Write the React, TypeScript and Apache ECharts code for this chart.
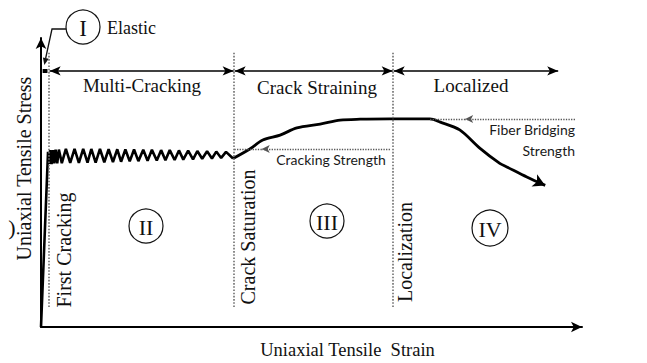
import React, { useEffect, useRef } from "react";
import * as echarts from "echarts";

// Elastic branch + multiple cracking (saw-tooth) branch
const crackingStrain = [
  0, 1.3, 1.5, 1.7, 1.95, 2.2, 2.45, 2.7, 3.0, 3.3, 3.85,
  4.6, 5.4, 6.2, 7.0, 7.8, 8.6, 9.3, 10.1, 10.9, 11.7, 12.5, 13.3,
  14.1, 14.8, 15.6, 16.4, 17.2, 18.0, 18.9, 19.7, 20.5, 21.4, 22.2,
  23.0, 23.8, 24.7, 25.5, 26.3, 27.2, 28.1, 28.9, 29.8, 30.7, 31.6,
  32.4, 33.3, 34.2, 35.5,
];
const crackingStress = [
  0, 60.6, 56.4, 61.2, 56.4, 61.2, 56.6, 61.4, 56.6, 61.4, 56.7,
  61.6, 56.8, 61.6, 56.8, 61.6, 56.9, 61.6, 56.9, 61.6, 57.0, 61.5, 57.1,
  61.5, 57.2, 61.4, 57.3, 61.4, 57.4, 61.3, 57.5, 61.3, 57.6, 61.2,
  57.7, 61.2, 57.8, 61.1, 57.9, 61.0, 58.0, 60.9, 58.2, 60.8, 58.3,
  60.7, 58.5, 60.6, 58.3,
];
// Strain-hardening and softening branch
const hardeningStrain = [35.5, 38.6, 41.0, 44.2, 47.3, 51.6, 55.3, 59.0, 64.5, 71.9, 73.8, 77.4, 81.1, 84.8, 86.1, 89.8, 93.2];
const hardeningStress = [58.3, 61.6, 64.7, 66.4, 68.9, 70.2, 71.6, 71.9, 72.0, 72.0, 70.9, 68.2, 61.9, 56.6, 55.4, 51.9, 49.0];

const boundaryStrain = [1.5, 35.7, 65.1];
const boundaryNames = ["First Cracking", "Crack Saturation", "Localization"];
const boundaryLow = 6.9;
const boundaryHigh = 95.2;

const phaseNames = ["Multi-Cracking", "Crack Straining", "Localized"];
const phaseStart = [1.6, 35.8, 65.2];
const phaseEnd = [35.6, 65.0, 95.6];
const phaseLevel = 88.6;

const crackingStrength = 61.6;
const crackingStrengthSpan = [35.7, 40.8, 64.5];
const fiberBridgingStrength = 72.0;
const fiberBridgingSpan = [71.9, 78.4, 98.7];

const stageNumerals = ["I", "II", "III", "IV"];
const xAxisTitle = "Uniaxial Tensile  Strain";
const yAxisTitle = "Uniaxial Tensile Stress";

const SERIF = '"Liberation Serif", "Times New Roman", serif';
const SANS = 'Lato, "Open Sans", sans-serif';

export default function App() {
  const ref = useRef<HTMLDivElement>(null);

  useEffect(() => {
    if (!ref.current) return;
    const chart = echarts.init(ref.current, null, { renderer: "svg" });

    const dotted = { type: "dotted", color: "#6e6e6e", width: 1.6 };
    const markData: any[] = [];
    boundaryStrain.forEach((x) => {
      markData.push([
        { coord: [x, boundaryLow], symbol: "none", lineStyle: dotted },
        { coord: [x, boundaryHigh], symbol: "none" },
      ]);
    });
    phaseStart.forEach((s, i) => {
      markData.push([
        { coord: [s, phaseLevel], symbol: "arrow", symbolSize: [7, 11], lineStyle: { type: "solid", color: "#000", width: 1.5 } },
        { coord: [phaseEnd[i], phaseLevel], symbol: "arrow", symbolSize: [7, 11] },
      ]);
    });
    // tiny elastic range marker
    markData.push([
      { coord: [0.3, phaseLevel], symbol: "none", lineStyle: { type: "solid", color: "#000", width: 4 } },
      { coord: [1.2, phaseLevel], symbol: "none" },
    ]);
    const thinArrow = { type: "dotted", color: "#555", width: 1.3 };
    markData.push([
      { coord: [crackingStrengthSpan[2], crackingStrength], symbol: "none", lineStyle: thinArrow },
      { coord: [crackingStrengthSpan[1], crackingStrength], symbol: "arrow", symbolSize: [6, 8] },
    ]);
    markData.push([
      { coord: [crackingStrengthSpan[1], crackingStrength], symbol: "none", lineStyle: thinArrow },
      { coord: [crackingStrengthSpan[0], crackingStrength], symbol: "none" },
    ]);
    markData.push([
      { coord: [fiberBridgingSpan[2], fiberBridgingStrength], symbol: "none", lineStyle: thinArrow },
      { coord: [fiberBridgingSpan[1], fiberBridgingStrength], symbol: "arrow", symbolSize: [6, 8] },
    ]);
    markData.push([
      { coord: [fiberBridgingSpan[1], fiberBridgingStrength], symbol: "none", lineStyle: thinArrow },
      { coord: [fiberBridgingSpan[0], fiberBridgingStrength], symbol: "none" },
    ]);

    const n = hardeningStrain.length;
    const dx = hardeningStrain[n - 1] - hardeningStrain[n - 2];
    const dy = hardeningStress[n - 1] - hardeningStress[n - 2];
    // screen slope: x 5.41 px/unit, y 2.89 px/unit
    const ang = (Math.atan2(dy * 2.89, dx * 5.41) * 180) / Math.PI;

    const serifText = (text: string, x: number, y: number, size: number, extra: any = {}) => ({
      type: "text",
      x,
      y,
      silent: true,
      ...extra,
      style: {
        text,
        fontFamily: SERIF,
        fontSize: size,
        fill: "#111",
        align: extra.align || "center",
        verticalAlign: "middle",
      },
    });
    const sansText = (text: string, x: number, y: number, align: string) => ({
      type: "text",
      x,
      y,
      silent: true,
      style: { text, fontFamily: SANS, fontSize: 14, fill: "#1a1a1a", align, verticalAlign: "middle" },
    });
    const circle = (cx: number, cy: number, r: number) => ({
      type: "circle",
      shape: { cx, cy, r },
      silent: true,
      style: { fill: "none", stroke: "#111", lineWidth: 1.2 },
    });

    const graphic: any[] = [
      circle(83, 27, 17),
      serifText(stageNumerals[0], 83, 28, 23),
      serifText("Elastic", 107, 28, 18, { align: "left" }),
      {
        type: "polyline",
        silent: true,
        shape: { points: [[66, 29], [52, 29], [45.6, 58.5]] },
        style: { stroke: "#111", lineWidth: 1.3, fill: "none" },
      },
      {
        type: "polygon",
        silent: true,
        shape: { points: [[44.3, 65], [48.7, 58.8], [42.9, 57.6]] },
        style: { fill: "#111" },
      },
      serifText(phaseNames[0], 142, 85, 19),
      serifText(phaseNames[1], 317, 87, 19),
      serifText(phaseNames[2], 471, 85, 19),
      serifText(boundaryNames[0], 64, 250, 20, { rotation: Math.PI / 2 }),
      serifText(boundaryNames[1], 248, 237, 20, { rotation: Math.PI / 2 }),
      serifText(boundaryNames[2], 405, 252, 20, { rotation: Math.PI / 2 }),
      serifText(yAxisTitle, 24, 168.5, 20, { rotation: Math.PI / 2 }),
      circle(146, 226, 17),
      serifText(stageNumerals[1], 146, 227, 22),
      circle(327, 221, 17),
      serifText(stageNumerals[2], 327, 222, 22),
      circle(490, 228, 18),
      serifText(stageNumerals[3], 490, 229, 22),
      serifText(")", 12, 227, 22),
      sansText("Cracking Strength", 331, 159, "center"),
      sansText("Fiber Bridging", 575, 129, "right"),
      sansText("Strength", 575, 150, "right"),
    ];

    chart.setOption({
      animation: false,
      backgroundColor: "#fff",
      grid: { left: 41, right: 65, top: 38, bottom: 36, containLabel: false, outerBoundsMode: "none" },
      xAxis: {
        type: "value",
        min: 0,
        max: 100,
        name: xAxisTitle,
        nameLocation: "middle",
        nameGap: 13,
        nameTextStyle: { fontFamily: SERIF, fontSize: 18.5, color: "#111", padding: [0, 0, 0, 72], verticalAlign: "top" },
        axisLine: { show: true, onZero: false, symbol: ["none", "arrow"], symbolSize: [8, 11], lineStyle: { color: "#000", width: 2 } },
        axisTick: { show: false },
        axisLabel: { show: false },
        splitLine: { show: false },
      },
      yAxis: {
        type: "value",
        min: 0,
        max: 100,
        axisLine: { show: true, onZero: false, symbol: ["none", "arrow"], symbolSize: [8, 11], lineStyle: { color: "#000", width: 2 } },
        axisTick: { show: false },
        axisLabel: { show: false },
        splitLine: { show: false },
      },
      series: [
        {
          type: "line",
          name: "Multiple cracking",
          data: crackingStrain.map((x, i) => [x, crackingStress[i]]),
          showSymbol: false,
          symbol: "none",
          lineStyle: { color: "#000", width: 2.6 },
          silent: true,
        },
        {
          type: "line",
          name: "Strain hardening",
          data: hardeningStrain.map((x, i) => [x, hardeningStress[i]]),
          showSymbol: false,
          symbol: "none",
          smooth: 0.3,
          lineStyle: { color: "#000", width: 2.8 },
          silent: true,
          markPoint: {
            silent: true,
            symbol: "arrow",
            symbolSize: [10, 12],
            symbolRotate: ang - 90,
            itemStyle: { color: "#000" },
            label: { show: false },
            data: [{ coord: [hardeningStrain[n - 1], hardeningStress[n - 1]] }],
          },
          markLine: {
            silent: true,
            animation: false,
            label: { show: false },
            emphasis: { disabled: true },
            data: markData,
          },
        },
      ],
      graphic,
    });

    return () => chart.dispose();
  }, []);

  return (
    <div
      ref={ref}
      style={{ position: "fixed", left: 0, top: 0, width: 647, height: 363, background: "#fff" }}
    />
  );
}
